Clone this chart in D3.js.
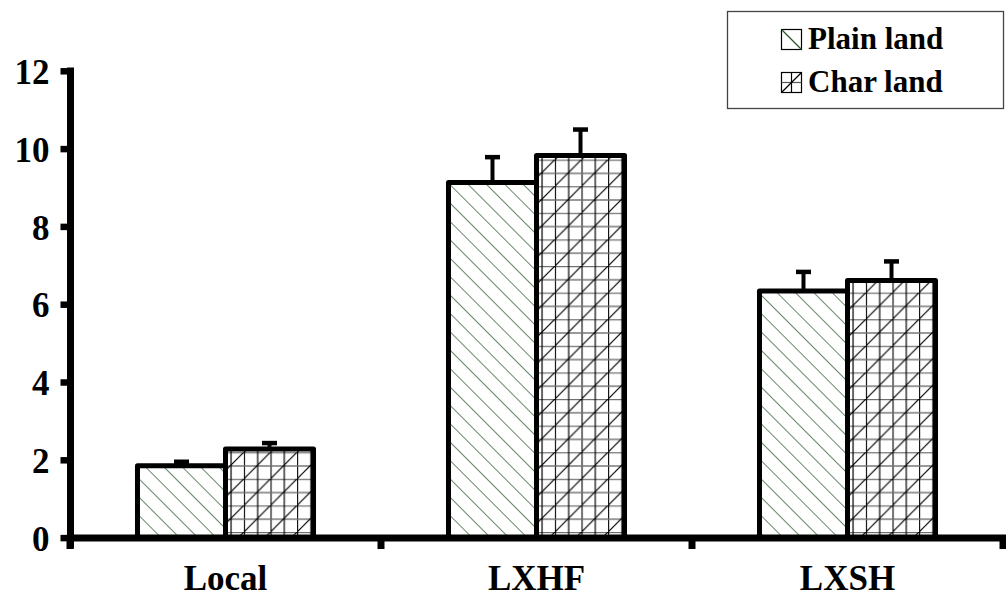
<!DOCTYPE html>
<html>
<head>
<meta charset="utf-8">
<script src="https://cdn.jsdelivr.net/npm/d3@7/dist/d3.min.js"></script>
<style>
  html, body { margin: 0; padding: 0; background: #fff; }
  svg { display: block; }
  text { font-family: "Liberation Serif", "Times New Roman", serif; font-weight: bold; fill: #000; }
</style>
</head>
<body>
<svg id="chart" width="1006" height="597"></svg>
<script>
// Categories, series and values
const categories = ["Local", "LXHF", "LXSH"];
const series = ["Plain land", "Char land"];
const plainLand = [1.85, 9.13, 6.34];
const plainLandErr = [0.10, 0.65, 0.49];
const charLand = [2.28, 9.82, 6.61];
const charLandErr = [0.15, 0.67, 0.49];
const yTicks = [0, 2, 4, 6, 8, 10, 12];

const svg = d3.select("#chart");
const W = 1006, H = 597;
svg.append("rect").attr("width", W).attr("height", H).attr("fill", "#fff");

// Hatch patterns
const defs = svg.append("defs");
const diag = defs.append("pattern")
  .attr("id", "hatchPlain")
  .attr("patternUnits", "userSpaceOnUse")
  .attr("width", 13).attr("height", 13)
  .attr("patternTransform", "rotate(-45)");
diag.append("rect").attr("width", 13).attr("height", 13).attr("fill", "#fff");
diag.append("line").attr("x1", 0).attr("y1", 0).attr("x2", 0).attr("y2", 13)
  .attr("stroke", "#28552a").attr("stroke-width", 1.4);

const cell = 13.3, tile = cell * 2;
const grid = defs.append("pattern")
  .attr("id", "hatchChar")
  .attr("patternUnits", "userSpaceOnUse")
  .attr("width", tile).attr("height", tile);
grid.append("rect").attr("width", tile).attr("height", tile).attr("fill", "#fff");
[0.5, cell + 0.5].forEach(v => {
  grid.append("line").attr("x1", 0).attr("x2", tile).attr("y1", v).attr("y2", v)
    .attr("stroke", "#6e6e6e").attr("stroke-width", 1.4);
  grid.append("line").attr("y1", 0).attr("y2", tile).attr("x1", v).attr("x2", v)
    .attr("stroke", "#000").attr("stroke-width", 1.2);
});
grid.append("line").attr("x1", -1).attr("y1", tile + 1).attr("x2", tile + 1).attr("y2", -1)
  .attr("stroke", "#000").attr("stroke-width", 1.2);

const fills = { "Plain land": "url(#hatchPlain)", "Char land": "url(#hatchChar)" };

// Scales
const x = d3.scaleBand().domain(categories).range([70, 1003])
  .paddingInner(0.434).paddingOuter(0.217);
const xs = d3.scaleBand().domain(series).range([0, x.bandwidth()]).padding(0);
const y = d3.scaleLinear().domain([0, 12]).range([537.6, 70.8]);

const rows = categories.map((c, i) => ({
  cat: c,
  vals: [
    { s: "Plain land", v: plainLand[i], e: plainLandErr[i] },
    { s: "Char land", v: charLand[i], e: charLandErr[i] }
  ]
}));

// Bars
const g = svg.append("g");
const groups = g.selectAll("g.grp").data(rows).join("g")
  .attr("class", "grp")
  .attr("transform", d => `translate(${x(d.cat)},0)`);

groups.selectAll("rect").data(d => d.vals).join("rect")
  .attr("x", d => xs(d.s))
  .attr("y", d => y(d.v))
  .attr("width", xs.bandwidth())
  .attr("height", d => y(0) - y(d.v))
  .attr("fill", d => fills[d.s])
  .attr("stroke", "#000")
  .attr("stroke-width", 5)
  .attr("stroke-linejoin", "round");

// Error bars (upper only)
groups.selectAll("g.err").data(d => d.vals).join("g")
  .attr("class", "err")
  .each(function(d) {
    const cx = xs(d.s) + xs.bandwidth() / 2;
    const sel = d3.select(this);
    sel.append("line").attr("x1", cx).attr("x2", cx)
      .attr("y1", y(d.v) - 2).attr("y2", y(d.v + d.e))
      .attr("stroke", "#000").attr("stroke-width", 4);
    sel.append("line").attr("x1", cx - 7.5).attr("x2", cx + 7.5)
      .attr("y1", y(d.v + d.e)).attr("y2", y(d.v + d.e))
      .attr("stroke", "#000").attr("stroke-width", 4.5);
  });

// Y axis
const yAxis = d3.axisLeft(y).tickValues(yTicks).tickSize(10).tickSizeOuter(0).tickPadding(12);
const ya = svg.append("g").attr("transform", "translate(70.5,0)").call(yAxis);
ya.select(".domain").remove();
ya.selectAll(".tick line").attr("stroke", "#000").attr("stroke-width", 6.5);
ya.selectAll(".tick text")
  .attr("font-size", 35)
  .attr("font-family", "Liberation Serif, Times New Roman, serif")
  .attr("font-weight", "bold")
  .attr("dy", "0.36em")
  .attr("x", -21);
svg.append("line").attr("x1", 70.5).attr("x2", 70.5)
  .attr("y1", 70.8 - 3.3).attr("y2", 548.5)
  .attr("stroke", "#000").attr("stroke-width", 7);

// X axis with ticks on the category boundaries
const step = x.step();
const bounds = d3.range(categories.length + 1).map(i => 70 + i * step);
svg.append("line").attr("x1", 67).attr("x2", 1006)
  .attr("y1", 537.9).attr("y2", 537.9)
  .attr("stroke", "#000").attr("stroke-width", 7);
svg.selectAll("line.xtick").data(bounds).join("line")
  .attr("class", "xtick")
  .attr("x1", d => d).attr("x2", d => d)
  .attr("y1", 537.9).attr("y2", 549)
  .attr("stroke", "#000").attr("stroke-width", 7);
svg.selectAll("text.xlab").data(categories).join("text")
  .attr("class", "xlab")
  .attr("x", d => x(d) + x.bandwidth() / 2)
  .attr("y", 590)
  .attr("text-anchor", "middle")
  .attr("font-size", 35)
  .text(d => d);

// Legend
const lg = svg.append("g");
lg.append("rect").attr("x", 727.5).attr("y", 11.5).attr("width", 276).attr("height", 97)
  .attr("fill", "#fff").attr("stroke", "#444").attr("stroke-width", 1.3);
const lgRows = series.map((s, i) => ({ s, y: 29 + i * 43 }));
lgRows.forEach(r => {
  const ix = 781.5, iy = r.y + 0.5, sz = 20;
  lg.append("rect").attr("x", ix).attr("y", iy).attr("width", sz).attr("height", sz)
    .attr("fill", "#fff").attr("stroke", "#000").attr("stroke-width", 1.2);
  if (r.s === "Plain land") {
    lg.append("line").attr("x1", ix).attr("y1", iy).attr("x2", ix + sz).attr("y2", iy + sz)
      .attr("stroke", "#28552a").attr("stroke-width", 1.3);
  } else {
    lg.append("line").attr("x1", ix).attr("x2", ix + sz).attr("y1", iy + sz / 2).attr("y2", iy + sz / 2)
      .attr("stroke", "#555").attr("stroke-width", 1.2);
    lg.append("line").attr("y1", iy).attr("y2", iy + sz).attr("x1", ix + sz / 2).attr("x2", ix + sz / 2)
      .attr("stroke", "#000").attr("stroke-width", 1.2);
    lg.append("line").attr("x1", ix).attr("y1", iy + sz).attr("x2", ix + sz).attr("y2", iy)
      .attr("stroke", "#000").attr("stroke-width", 1.2);
  }
  lg.append("text").attr("x", 808).attr("y", r.y + 19.5)
    .attr("font-size", 31).text(r.s);
});
</script>
</body>
</html>
